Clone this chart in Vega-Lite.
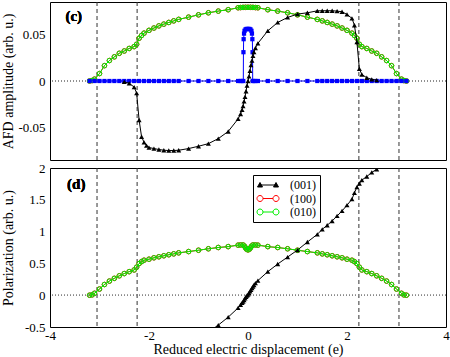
{
  "$schema": "https://vega.github.io/schema/vega-lite/v6.json",
  "padding": {"left": 0, "top": 1, "right": 4, "bottom": 0},
  "spacing": 8,
  "bounds": "flush",
  "config": {
    "view": {"stroke": "black", "strokeWidth": 1},
    "font": "Liberation Serif",
    "axis": {"grid": false, "domain": false, "tickColor": "black", "tickSize": 0, "labelFlush": false, "labelColor": "black", "titleColor": "black", "labelFont": "Liberation Serif", "titleFont": "Liberation Serif", "labelFontSize": 13, "titleFontSize": 14, "titleFontWeight": "normal"}
  },
  "datasets": {
    "vl": [{"x": -3.05}, {"x": -2.24}, {"x": 2.24}, {"x": 3.05}],
    "cBlue": [
      {"x": -3.2, "y": 0}, {"x": -3.1, "y": 0}, {"x": -3.0, "y": 0}, {"x": -2.9, "y": 0}, {"x": -2.8, "y": 0}, {"x": -2.7, "y": 0}, {"x": -2.6, "y": 0}, {"x": -2.5, "y": 0}, {"x": -2.4, "y": 0}, {"x": -2.3, "y": 0}, {"x": -2.2, "y": 0}, {"x": -2.1, "y": 0}, {"x": -2.0, "y": 0}, {"x": -1.9, "y": 0}, {"x": -1.8, "y": 0}, {"x": -1.7, "y": 0}, {"x": -1.6, "y": 0}, {"x": -1.5, "y": 0}, {"x": -1.4, "y": 0},
      {"x": -1.2, "y": 0}, {"x": -1.0, "y": 0}, {"x": -0.8, "y": 0}, {"x": -0.6, "y": 0}, {"x": -0.4, "y": 0}, {"x": -0.2, "y": 0}, {"x": -0.15, "y": 0}, {"x": -0.12, "y": 0}, {"x": -0.095, "y": 0},
      {"x": -0.092, "y": 0.031}, {"x": -0.088, "y": 0.045}, {"x": -0.08, "y": 0.051}, {"x": -0.07, "y": 0.054}, {"x": -0.05, "y": 0.0555}, {"x": -0.03, "y": 0.056}, {"x": -0.01, "y": 0.056}, {"x": 0.01, "y": 0.056}, {"x": 0.03, "y": 0.056}, {"x": 0.05, "y": 0.0555}, {"x": 0.07, "y": 0.054}, {"x": 0.08, "y": 0.051}, {"x": 0.088, "y": 0.045}, {"x": 0.092, "y": 0.031},
      {"x": 0.095, "y": 0}, {"x": 0.12, "y": 0}, {"x": 0.15, "y": 0}, {"x": 0.2, "y": 0}, {"x": 0.4, "y": 0}, {"x": 0.6, "y": 0}, {"x": 0.8, "y": 0}, {"x": 1.0, "y": 0}, {"x": 1.2, "y": 0},
      {"x": 1.4, "y": 0}, {"x": 1.5, "y": 0}, {"x": 1.6, "y": 0}, {"x": 1.7, "y": 0}, {"x": 1.8, "y": 0}, {"x": 1.9, "y": 0}, {"x": 2.0, "y": 0}, {"x": 2.1, "y": 0}, {"x": 2.2, "y": 0}, {"x": 2.3, "y": 0}, {"x": 2.4, "y": 0}, {"x": 2.5, "y": 0}, {"x": 2.6, "y": 0}, {"x": 2.7, "y": 0}, {"x": 2.8, "y": 0}, {"x": 2.9, "y": 0}, {"x": 3.0, "y": 0}, {"x": 3.1, "y": 0}, {"x": 3.2, "y": 0}
    ],
    "c001": [
      {"x": -2.5, "y": -0.001}, {"x": -2.4, "y": -0.0025}, {"x": -2.3, "y": -0.0065}, {"x": -2.25, "y": -0.013}, {"x": -2.2, "y": -0.042}, {"x": -2.15, "y": -0.06}, {"x": -2.1, "y": -0.066}, {"x": -2.05, "y": -0.0695}, {"x": -2.0, "y": -0.0716}, {"x": -1.9, "y": -0.0727}, {"x": -1.8, "y": -0.0737}, {"x": -1.7, "y": -0.0745}, {"x": -1.6, "y": -0.0748}, {"x": -1.5, "y": -0.0748}, {"x": -1.4, "y": -0.0745}, {"x": -1.2, "y": -0.0727}, {"x": -1.0, "y": -0.0702}, {"x": -0.8, "y": -0.0674}, {"x": -0.6, "y": -0.062}, {"x": -0.4, "y": -0.0543}, {"x": -0.2, "y": -0.0408}, {"x": -0.15, "y": -0.0355},
      {"x": -0.12, "y": -0.031}, {"x": -0.1, "y": -0.027}, {"x": -0.08, "y": -0.022}, {"x": -0.06, "y": -0.017}, {"x": -0.04, "y": -0.011}, {"x": -0.02, "y": -0.005}, {"x": 0, "y": 0}, {"x": 0.02, "y": 0.005}, {"x": 0.04, "y": 0.011}, {"x": 0.06, "y": 0.017}, {"x": 0.08, "y": 0.022}, {"x": 0.1, "y": 0.027}, {"x": 0.12, "y": 0.031},
      {"x": 0.15, "y": 0.0355}, {"x": 0.2, "y": 0.0405}, {"x": 0.4, "y": 0.054}, {"x": 0.6, "y": 0.063}, {"x": 0.8, "y": 0.0684}, {"x": 1.0, "y": 0.072}, {"x": 1.2, "y": 0.0734}, {"x": 1.4, "y": 0.0755}, {"x": 1.5, "y": 0.0756}, {"x": 1.6, "y": 0.0756}, {"x": 1.7, "y": 0.0756}, {"x": 1.8, "y": 0.0752}, {"x": 1.9, "y": 0.0745}, {"x": 2.0, "y": 0.0716}, {"x": 2.1, "y": 0.0674}, {"x": 2.15, "y": 0.06}, {"x": 2.2, "y": 0.042}, {"x": 2.25, "y": 0.013}, {"x": 2.3, "y": 0.007}, {"x": 2.4, "y": 0.0035}, {"x": 2.5, "y": 0.0018}, {"x": 2.6, "y": 0.001}
    ],
    "cPerp": [
      {"x": -3.2, "y": 0}, {"x": -3.15, "y": 0.0005}, {"x": -3.1, "y": 0.002}, {"x": -3.0, "y": 0.008}, {"x": -2.9, "y": 0.0165}, {"x": -2.8, "y": 0.022}, {"x": -2.7, "y": 0.026}, {"x": -2.6, "y": 0.0298}, {"x": -2.5, "y": 0.0323}, {"x": -2.4, "y": 0.035}, {"x": -2.3, "y": 0.037}, {"x": -2.25, "y": 0.0395}, {"x": -2.2, "y": 0.046}, {"x": -2.15, "y": 0.049}, {"x": -2.1, "y": 0.0515}, {"x": -2.0, "y": 0.0545}, {"x": -1.9, "y": 0.057}, {"x": -1.8, "y": 0.0593}, {"x": -1.7, "y": 0.0612}, {"x": -1.6, "y": 0.063}, {"x": -1.5, "y": 0.0647}, {"x": -1.4, "y": 0.0663}, {"x": -1.2, "y": 0.0687}, {"x": -1.0, "y": 0.0712}, {"x": -0.8, "y": 0.0734}, {"x": -0.6, "y": 0.0752}, {"x": -0.4, "y": 0.0767}, {"x": -0.2, "y": 0.0788}, {"x": -0.15, "y": 0.079}, {"x": -0.1, "y": 0.0792}, {"x": -0.05, "y": 0.0793}, {"x": 0, "y": 0.0793},
      {"x": 0.05, "y": 0.0793}, {"x": 0.1, "y": 0.0792}, {"x": 0.15, "y": 0.079}, {"x": 0.2, "y": 0.0788}, {"x": 0.4, "y": 0.0767}, {"x": 0.6, "y": 0.0752}, {"x": 0.8, "y": 0.0734}, {"x": 1.0, "y": 0.0712}, {"x": 1.2, "y": 0.0687}, {"x": 1.4, "y": 0.0663}, {"x": 1.5, "y": 0.0647}, {"x": 1.6, "y": 0.063}, {"x": 1.7, "y": 0.0612}, {"x": 1.8, "y": 0.0593}, {"x": 1.9, "y": 0.057}, {"x": 2.0, "y": 0.0545}, {"x": 2.1, "y": 0.0515}, {"x": 2.15, "y": 0.049}, {"x": 2.2, "y": 0.046}, {"x": 2.25, "y": 0.0395}, {"x": 2.3, "y": 0.037}, {"x": 2.4, "y": 0.035}, {"x": 2.5, "y": 0.0323}, {"x": 2.6, "y": 0.0298}, {"x": 2.7, "y": 0.026}, {"x": 2.8, "y": 0.022}, {"x": 2.9, "y": 0.0165}, {"x": 3.0, "y": 0.008}, {"x": 3.1, "y": 0.002}, {"x": 3.15, "y": 0.0005}, {"x": 3.2, "y": 0}
    ],
    "d001": [
      {"x": -0.8, "y": -0.58}, {"x": -0.6, "y": -0.47}, {"x": -0.4, "y": -0.345}, {"x": -0.2, "y": -0.2}, {"x": -0.15, "y": -0.15}, {"x": -0.12, "y": -0.12}, {"x": -0.1, "y": -0.1}, {"x": -0.08, "y": -0.075}, {"x": -0.06, "y": -0.05}, {"x": -0.04, "y": -0.025}, {"x": -0.02, "y": -0.005}, {"x": 0, "y": 0.01}, {"x": 0.02, "y": 0.035}, {"x": 0.04, "y": 0.06}, {"x": 0.06, "y": 0.085}, {"x": 0.08, "y": 0.11}, {"x": 0.1, "y": 0.135}, {"x": 0.12, "y": 0.16}, {"x": 0.15, "y": 0.19}, {"x": 0.2, "y": 0.23},
      {"x": 0.4, "y": 0.37}, {"x": 0.6, "y": 0.49}, {"x": 0.8, "y": 0.6}, {"x": 1.0, "y": 0.71}, {"x": 1.2, "y": 0.836}, {"x": 1.4, "y": 0.957}, {"x": 1.5, "y": 1.036}, {"x": 1.6, "y": 1.1}, {"x": 1.7, "y": 1.167}, {"x": 1.8, "y": 1.246}, {"x": 1.9, "y": 1.325}, {"x": 2.0, "y": 1.415}, {"x": 2.1, "y": 1.51}, {"x": 2.15, "y": 1.61}, {"x": 2.2, "y": 1.7}, {"x": 2.25, "y": 1.756}, {"x": 2.3, "y": 1.81}, {"x": 2.4, "y": 1.866}, {"x": 2.5, "y": 1.93}, {"x": 2.6, "y": 1.98}, {"x": 2.7, "y": 2.04}
    ],
    "dPerp": [
      {"x": -3.2, "y": 0}, {"x": -3.15, "y": 0.005}, {"x": -3.1, "y": 0.03}, {"x": -3.0, "y": 0.097}, {"x": -2.9, "y": 0.168}, {"x": -2.8, "y": 0.222}, {"x": -2.7, "y": 0.265}, {"x": -2.6, "y": 0.305}, {"x": -2.5, "y": 0.34}, {"x": -2.4, "y": 0.37}, {"x": -2.3, "y": 0.397}, {"x": -2.25, "y": 0.44}, {"x": -2.2, "y": 0.497}, {"x": -2.15, "y": 0.528}, {"x": -2.1, "y": 0.55}, {"x": -2.0, "y": 0.566}, {"x": -1.9, "y": 0.588}, {"x": -1.8, "y": 0.604}, {"x": -1.7, "y": 0.62}, {"x": -1.6, "y": 0.636}, {"x": -1.5, "y": 0.65}, {"x": -1.4, "y": 0.666}, {"x": -1.2, "y": 0.686}, {"x": -1.0, "y": 0.707}, {"x": -0.8, "y": 0.73}, {"x": -0.6, "y": 0.75}, {"x": -0.4, "y": 0.764}, {"x": -0.2, "y": 0.787}, {"x": -0.15, "y": 0.79}, {"x": -0.1, "y": 0.79}, {"x": -0.07, "y": 0.77}, {"x": -0.05, "y": 0.745}, {"x": -0.03, "y": 0.725}, {"x": 0, "y": 0.712},
      {"x": 0.03, "y": 0.725}, {"x": 0.05, "y": 0.745}, {"x": 0.07, "y": 0.77}, {"x": 0.1, "y": 0.79}, {"x": 0.15, "y": 0.79}, {"x": 0.2, "y": 0.787}, {"x": 0.4, "y": 0.764}, {"x": 0.6, "y": 0.75}, {"x": 0.8, "y": 0.73}, {"x": 1.0, "y": 0.707}, {"x": 1.2, "y": 0.686}, {"x": 1.4, "y": 0.666}, {"x": 1.5, "y": 0.65}, {"x": 1.6, "y": 0.636}, {"x": 1.7, "y": 0.62}, {"x": 1.8, "y": 0.604}, {"x": 1.9, "y": 0.588}, {"x": 2.0, "y": 0.566}, {"x": 2.1, "y": 0.55}, {"x": 2.15, "y": 0.528}, {"x": 2.2, "y": 0.497}, {"x": 2.25, "y": 0.44}, {"x": 2.3, "y": 0.397}, {"x": 2.4, "y": 0.37}, {"x": 2.5, "y": 0.34}, {"x": 2.6, "y": 0.305}, {"x": 2.7, "y": 0.265}, {"x": 2.8, "y": 0.222}, {"x": 2.9, "y": 0.168}, {"x": 3.0, "y": 0.097}, {"x": 3.1, "y": 0.03}, {"x": 3.15, "y": 0.005}, {"x": 3.2, "y": 0}
    ]
  },
  "resolve": {"scale": {"color": "independent"}, "legend": {"color": "independent"}},
  "vconcat": [
    {
      "width": 396,
      "height": 158,
      "resolve": {"axis": {"x": "independent", "y": "independent"}},
      "layer": [
        {
          "data": {"name": "vl"},
          "mark": {"type": "rule", "color": "#333333", "strokeWidth": 1, "strokeDash": [4, 3]},
          "encoding": {
            "x": {"field": "x", "type": "quantitative", "scale": {"domain": [-4, 4], "nice": false, "zero": false},
              "axis": {"orient": "bottom", "values": [-4, -3, -2, -1, 0, 1, 2, 3, 4], "labels": false, "title": null, "labelPadding": 0, "minExtent": 0, "maxExtent": 0,
                "encode": {"ticks": {"update": {"y2": {"signal": "datum.value % 2 == 0 ? -8 : -4"}}}}}}
          }
        },
        {
          "data": {"name": "vl"},
          "mark": {"type": "rule", "color": "#888888", "strokeWidth": 1, "strokeDash": [1, 2]},
          "encoding": {
            "y": {"datum": 0, "type": "quantitative", "scale": {"domain": [-0.085, 0.085], "nice": false, "zero": false},
              "axis": {"orient": "left", "values": [-0.075, -0.05, -0.025, 0, 0.025, 0.05, 0.075], "title": "AFD amplitude (arb. u.)", "labelPadding": 5, "minExtent": 32, "maxExtent": 32, "titlePadding": 3,
                "labelExpr": "abs(datum.value*20 - round(datum.value*20)) < 1e-6 ? (datum.value == 0 ? '0' : (datum.value < 0 ? '-' : '') + format(abs(datum.value), '.2f')) : ''",
                "encode": {"ticks": {"update": {"x2": {"signal": "abs(datum.value*20 - round(datum.value*20)) < 1e-6 ? 8 : 4"}}}}}}
          }
        },
        {
          "data": {"name": "vl"},
          "mark": {"type": "text", "fontWeight": "bold", "fontSize": 15, "font": "Liberation Serif", "align": "center", "baseline": "middle", "color": "black"},
          "encoding": {
            "x": {"datum": -3.52, "type": "quantitative",
              "axis": {"orient": "top", "values": [-4, -3, -2, -1, 0, 1, 2, 3, 4], "labels": false, "title": null, "labelPadding": 0, "minExtent": 0, "maxExtent": 0,
                "encode": {"ticks": {"update": {"y2": {"signal": "datum.value % 2 == 0 ? 8 : 4"}}}}}},
            "y": {"datum": 0.0696, "type": "quantitative",
              "axis": {"orient": "right", "values": [-0.075, -0.05, -0.025, 0, 0.025, 0.05, 0.075], "labels": false, "title": null, "labelPadding": 0, "minExtent": 0, "maxExtent": 0,
                "encode": {"ticks": {"update": {"x2": {"signal": "abs(datum.value*20 - round(datum.value*20)) < 1e-6 ? -8 : -4"}}}}}},
            "text": {"value": "(c)"}
          }
        },
        {
          "data": {"name": "cPerp"},
          "mark": {"type": "line", "color": "#ff0000", "strokeWidth": 1, "point": {"filled": false, "size": 22, "color": "#ff0000", "strokeWidth": 1}},
          "encoding": {"x": {"field": "x", "type": "quantitative", "axis": null}, "y": {"field": "y", "type": "quantitative", "axis": null}}
        },
        {
          "data": {"name": "cPerp"},
          "mark": {"type": "line", "color": "#00ee00", "strokeWidth": 1, "point": {"filled": false, "size": 20, "color": "#00ee00", "strokeWidth": 1}},
          "encoding": {"x": {"field": "x", "type": "quantitative", "axis": null}, "y": {"field": "y", "type": "quantitative", "axis": null}}
        },
        {
          "data": {"name": "cBlue"},
          "mark": {"type": "line", "color": "#0000ff", "strokeWidth": 1, "point": {"filled": true, "shape": "square", "size": 18, "color": "#0000ff"}},
          "encoding": {"x": {"field": "x", "type": "quantitative", "axis": null}, "y": {"field": "y", "type": "quantitative", "axis": null}}
        },
        {
          "data": {"name": "c001"},
          "mark": {"type": "line", "color": "black", "strokeWidth": 1, "point": {"filled": true, "shape": "triangle-up", "size": 25, "color": "black"}},
          "encoding": {"x": {"field": "x", "type": "quantitative", "axis": null}, "y": {"field": "y", "type": "quantitative", "axis": null}}
        }
      ]
    },
    {
      "width": 396,
      "height": 159,
      "resolve": {"axis": {"x": "independent", "y": "independent"}},
      "layer": [
        {
          "data": {"name": "vl"},
          "mark": {"type": "rule", "color": "#333333", "strokeWidth": 1, "strokeDash": [4, 3]},
          "encoding": {
            "x": {"field": "x", "type": "quantitative", "scale": {"domain": [-4, 4], "nice": false, "zero": false},
              "axis": {"orient": "bottom", "values": [-4, -3, -2, -1, 0, 1, 2, 3, 4], "title": "Reduced electric displacement (e)", "labelPadding": 2, "titlePadding": 0,
                "labelExpr": "datum.value % 2 == 0 ? toString(datum.value) : ''",
                "encode": {"ticks": {"update": {"y2": {"signal": "datum.value % 2 == 0 ? -8 : -4"}}}}}}
          }
        },
        {
          "data": {"name": "vl"},
          "mark": {"type": "rule", "color": "#888888", "strokeWidth": 1, "strokeDash": [1, 2]},
          "encoding": {
            "y": {"datum": 0, "type": "quantitative", "scale": {"domain": [-0.5, 2], "nice": false, "zero": false},
              "axis": {"orient": "left", "values": [-0.5, -0.25, 0, 0.25, 0.5, 0.75, 1, 1.25, 1.5, 1.75, 2], "title": "Polarization (arb. u.)", "labelPadding": 5, "minExtent": 32, "maxExtent": 32, "titlePadding": 3,
                "labelExpr": "abs(datum.value*2 - round(datum.value*2)) < 1e-6 ? toString(datum.value) : ''",
                "encode": {"ticks": {"update": {"x2": {"signal": "abs(datum.value*2 - round(datum.value*2)) < 1e-6 ? 8 : 4"}}}}}}
          }
        },
        {
          "data": {"name": "vl"},
          "mark": {"type": "text", "fontWeight": "bold", "fontSize": 15, "font": "Liberation Serif", "align": "center", "baseline": "middle", "color": "black"},
          "encoding": {
            "x": {"datum": -3.47, "type": "quantitative",
              "axis": {"orient": "top", "values": [-4, -3, -2, -1, 0, 1, 2, 3, 4], "labels": false, "title": null, "labelPadding": 0, "minExtent": 0, "maxExtent": 0,
                "encode": {"ticks": {"update": {"y2": {"signal": "datum.value % 2 == 0 ? 8 : 4"}}}}}},
            "y": {"datum": 1.746, "type": "quantitative",
              "axis": {"orient": "right", "values": [-0.5, -0.25, 0, 0.25, 0.5, 0.75, 1, 1.25, 1.5, 1.75, 2], "labels": false, "title": null, "labelPadding": 0, "minExtent": 0, "maxExtent": 0,
                "encode": {"ticks": {"update": {"x2": {"signal": "abs(datum.value*2 - round(datum.value*2)) < 1e-6 ? -8 : -4"}}}}}},
            "text": {"value": "(d)"}
          }
        },
        {
          "data": {"name": "dPerp"},
          "mark": {"type": "line", "strokeWidth": 1, "point": {"filled": false, "size": 22, "strokeWidth": 1}},
          "encoding": {"x": {"field": "x", "type": "quantitative", "axis": null}, "y": {"field": "y", "type": "quantitative", "axis": null},
            "color": {"datum": "(100)", "type": "nominal"}}
        },
        {
          "data": {"name": "dPerp"},
          "mark": {"type": "line", "strokeWidth": 1, "point": {"filled": false, "size": 20, "strokeWidth": 1}},
          "encoding": {"x": {"field": "x", "type": "quantitative", "axis": null}, "y": {"field": "y", "type": "quantitative", "axis": null},
            "color": {"datum": "(010)", "type": "nominal"}}
        },
        {
          "data": {"name": "d001"},
          "mark": {"type": "line", "strokeWidth": 1, "clip": true, "point": {"filled": true, "shape": "triangle-up", "size": 25, "clip": true}},
          "encoding": {"x": {"field": "x", "type": "quantitative", "axis": null}, "y": {"field": "y", "type": "quantitative", "axis": null},
            "color": {"datum": "(001)", "type": "nominal",
              "scale": {"domain": ["(001)", "(100)", "(010)"], "range": ["#000000", "#ff0000", "#00ee00"]},
              "legend": {"title": null, "orient": "none", "legendX": 203, "legendY": 7, "strokeColor": "black", "fillColor": "white", "padding": 4,
                "labelFont": "Liberation Serif", "labelFontSize": 12, "labelColor": "black", "symbolSize": 100, "symbolOffset": 5, "labelOffset": 16, "rowPadding": 1.5, "symbolStrokeWidth": 1,
                "encode": {"symbols": {"update": {
                  "shape": {"signal": "datum.value === '(001)' ? 'M-1.6,0L1.6,0M-2.1,0.4L-1.6,-0.5L-1.1,0.4ZM1.1,0.4L1.6,-0.5L2.1,0.4Z' : 'M-1.0,0L1.0,0M-1.0,0A0.6,0.6,0,1,1,-2.2,0A0.6,0.6,0,1,1,-1.0,0ZM2.2,0A0.6,0.6,0,1,1,1.0,0A0.6,0.6,0,1,1,2.2,0Z'"},
                  "fill": {"signal": "datum.value === '(001)' ? 'black' : 'white'"},
                  "fillOpacity": {"signal": "datum.value === '(001)' ? 1 : 0"},
                  "stroke": {"signal": "datum.value === '(001)' ? 'black' : (datum.value === '(100)' ? '#ff0000' : '#00ee00')"},
                  "strokeWidth": {"value": 1},
                  "size": {"value": 100},
                  "opacity": {"value": 1}
                }}}}}}
        }
      ]
    }
  ]
}
